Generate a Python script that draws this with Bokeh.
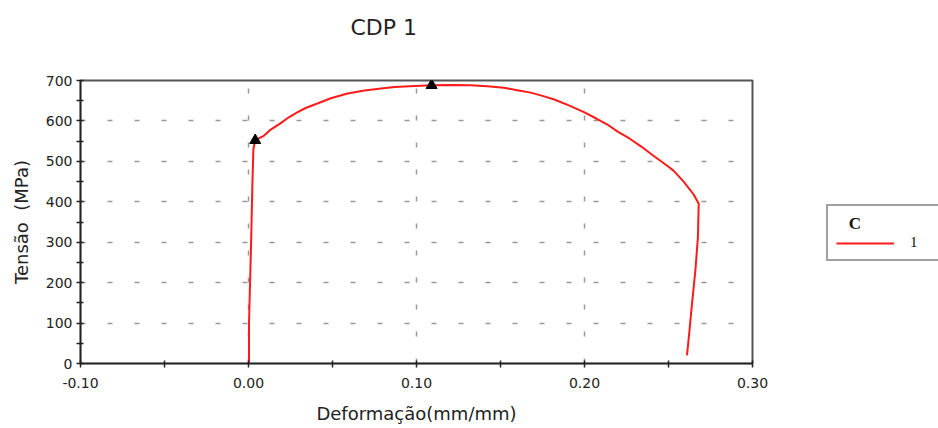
from bokeh.plotting import figure
from bokeh.layouts import row
from bokeh.models import (Range1d, FixedTicker, NumeralTickFormatter, Legend,
                          LegendItem, ColumnDataSource, Title)
from bokeh.embed import file_html
from bokeh.resources import INLINE

# Stress-strain curve of specimen CDP 1
strain = [0.0, 0.0003, 0.0003, 0.0015, 0.0023, 0.0029, 0.0040, 0.009, 0.013,
          0.019, 0.024, 0.029, 0.034, 0.041, 0.049, 0.059, 0.069, 0.079,
          0.087, 0.096, 0.109, 0.120, 0.132, 0.142, 0.152, 0.160, 0.168,
          0.175, 0.182, 0.191, 0.200, 0.207, 0.214, 0.220, 0.227, 0.234,
          0.241, 0.247, 0.253, 0.259, 0.265, 0.268, 0.2675, 0.266, 0.264,
          0.2625, 0.261]
stress = [0, 0, 100, 290, 440, 530, 552, 563, 578, 594, 609, 621, 632, 643,
          656, 668, 675, 680, 684, 686, 688, 689, 688, 686, 682, 676, 670,
          662, 653, 638, 621, 606, 590, 573, 556, 536, 514, 496, 477, 450,
          418, 395, 312, 230, 148, 82, 20]

# Marked points: yield and ultimate strength
mark_strain = [0.0040, 0.109]
mark_stress = [552, 688]

x_ticks = [-0.10, 0.00, 0.10, 0.20, 0.30]
x_minor = [-0.05, 0.05, 0.15, 0.25]
y_ticks = [0, 100, 200, 300, 400, 500, 600, 700]
y_minor = [50, 150, 250, 350, 450, 550, 650]

series_name = "1"
legend_title = "C"
RED = "#ff1a1a"
FONT = "DejaVu Sans"

src = ColumnDataSource(dict(x=strain, y=stress))

# ---- main chart ----
p = figure(width=790, height=428, output_backend="svg", toolbar_location=None,
           x_range=Range1d(-0.10, 0.30), y_range=Range1d(0, 700),
           min_border_left=80, min_border_right=38, min_border_top=80,
           min_border_bottom=65)

p.background_fill_color = "white"
p.border_fill_color = "white"
p.outline_line_color = "#555555"
p.outline_line_width = 2

# chart title, lifted above the frame by an empty spacer line
p.title.text = ""
spacer = Title(text="\u00a0", text_font_size="1px", standoff=33)
p.add_layout(spacer, "above")
title = Title(text="CDP 1", text_font=FONT, text_font_size="22px",
              text_font_style="normal", text_color="#222222",
              align="left", offset=270, standoff=10)
p.add_layout(title, "above")

for ax in (p.xaxis[0], p.yaxis[0]):
    ax.axis_line_color = "#222222"
    ax.axis_line_width = 1.5
    ax.major_tick_line_color = "#222222"
    ax.minor_tick_line_color = "#222222"
    ax.major_tick_line_width = 1.5
    ax.minor_tick_line_width = 1.5
    ax.major_tick_in = 3
    ax.major_tick_out = 4
    ax.minor_tick_in = 3
    ax.minor_tick_out = 4
    ax.major_label_text_font = FONT
    ax.major_label_text_font_size = "14px"
    ax.major_label_text_color = "#222222"
    ax.axis_label_text_font = FONT
    ax.axis_label_text_font_size = "18px"
    ax.axis_label_text_font_style = "normal"
    ax.axis_label_text_color = "#222222"

p.xaxis[0].ticker = FixedTicker(ticks=x_ticks, minor_ticks=x_minor)
p.xaxis[0].formatter = NumeralTickFormatter(format="0.00")
p.xaxis[0].axis_label = "Deformação(mm/mm)"
p.xaxis[0].major_label_standoff = 10
p.xaxis[0].axis_label_standoff = 12

p.yaxis[0].ticker = FixedTicker(ticks=y_ticks, minor_ticks=y_minor)
p.yaxis[0].axis_label = "Tensão\u00a0\u00a0(MPa)"
p.yaxis[0].major_label_standoff = 4
p.yaxis[0].axis_label_standoff = 11

for g in (p.xgrid[0], p.ygrid[0]):
    g.grid_line_color = "#999999"
    g.grid_line_width = 1.5
    g.grid_line_dash = "5 22"

p.line("x", "y", source=src, line_color=RED, line_width=2)
p.scatter(mark_strain, mark_stress, marker="triangle", size=11,
          fill_color="black", line_color="black")

# ---- legend panel on the right ----
# the same series is attached here, but the ranges keep it out of view;
# only its legend entry shows
lf = figure(width=148, height=428, output_backend="svg", toolbar_location=None,
            x_range=Range1d(1, 2), y_range=Range1d(1000, 2000),
            x_axis_type=None, y_axis_type=None, min_border=0)
lf.outline_line_color = None
lf.background_fill_color = "white"
lf.border_fill_color = "white"
lf.grid.visible = False

entry = lf.line("x", "y", source=src, line_color=RED, line_width=2)
legend = Legend(items=[LegendItem(label=series_name, renderers=[entry])],
                location=(36, 102),
                title="\u00a0\u00a0\u00a0" + legend_title,
                title_text_font="Liberation Serif",
                title_text_font_size="17px",
                title_text_font_style="bold",
                title_text_color="#111111",
                title_standoff=-2,
                label_text_font="Liberation Serif",
                label_text_font_size="15px",
                label_text_color="#111111",
                glyph_width=58, glyph_height=14, label_standoff=16,
                label_width=40,
                padding=8, margin=0, spacing=0,
                border_line_color="#444444", border_line_width=2,
                background_fill_color="white")
lf.add_layout(legend, "center")

layout = row(p, lf)
open("out.html", "w").write(file_html(layout, INLINE))
